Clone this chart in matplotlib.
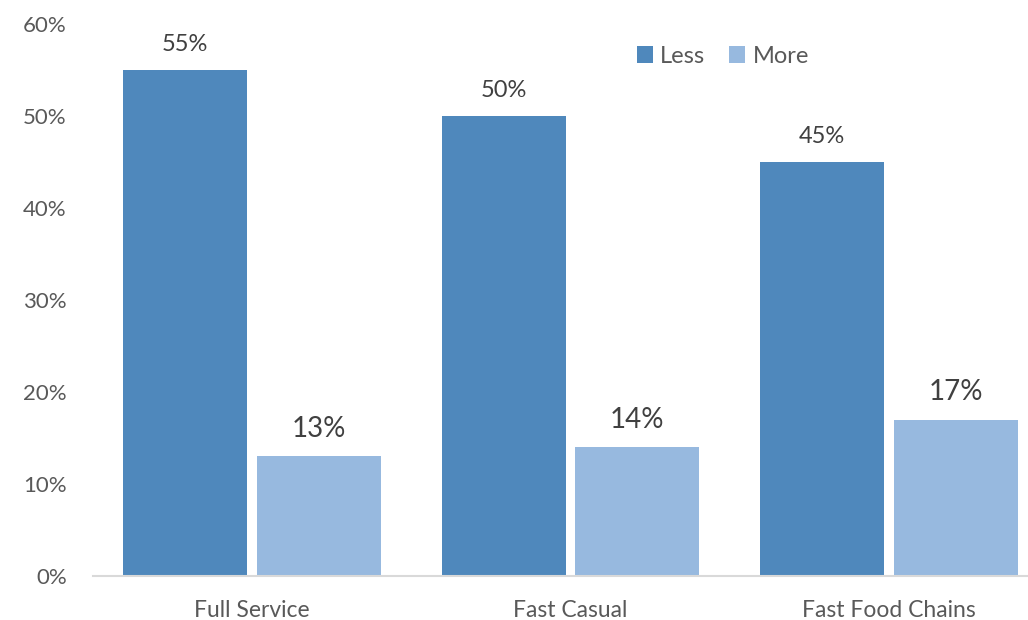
import matplotlib
matplotlib.use("Agg")
import matplotlib.pyplot as plt
import numpy as np

categories = ["Full Service", "Fast Casual", "Fast Food Chains"]
less = [55, 50, 45]
more = [13, 14, 17]
series_names = ["Less", "More"]

colors = ["#4F88BC", "#97B9DF"]
text_color = "#595959"

plt.rcParams["font.family"] = ["Lato", "DejaVu Sans"]

fig = plt.figure(figsize=(10.28, 6.2), dpi=100)
ax = fig.add_axes([0.0905, 0.071, 0.929, 0.890])

x = np.arange(len(categories))
width = 0.39
offset = 0.21
b1 = ax.bar(x - offset, less, width, color=colors[0], label=series_names[0])
b2 = ax.bar(x + offset, more, width, color=colors[1], label=series_names[1])

# value labels; the "More" labels are drawn a bit larger in the original
for bars, size in ((b1, 17), (b2, 20)):
    for bar in bars:
        h = bar.get_height()
        ax.annotate(f"{h:g}%", (bar.get_x() + bar.get_width() / 2, h),
                    xytext=(0, 14), textcoords="offset points",
                    ha="center", va="baseline", fontsize=size, color="#404040")

ax.set_xlim(-0.5, 2.5)
ax.set_ylim(0, 60)
ax.set_yticks(range(0, 61, 10))
ax.set_yticklabels([f"{v}%" for v in range(0, 61, 10)])
ax.set_xticks(x)
ax.set_xticklabels(categories)
ax.tick_params(length=0, labelsize=16.5, colors=text_color)
ax.tick_params(axis="y", labelsize=16, pad=19)
ax.tick_params(axis="x", pad=17)

for s in ["top", "right", "left"]:
    ax.spines[s].set_visible(False)
ax.spines["bottom"].set_color("#D9D9D9")
ax.spines["bottom"].set_linewidth(1.5)

leg = fig.legend(loc="center", bbox_to_anchor=(0.703, 0.909), ncol=2, frameon=False,
                 fontsize=17, handlelength=0.7, handleheight=0.7,
                 handletextpad=0.3, columnspacing=1.0)
for t in leg.get_texts():
    t.set_color(text_color)

fig.savefig("out.png", dpi=100)
